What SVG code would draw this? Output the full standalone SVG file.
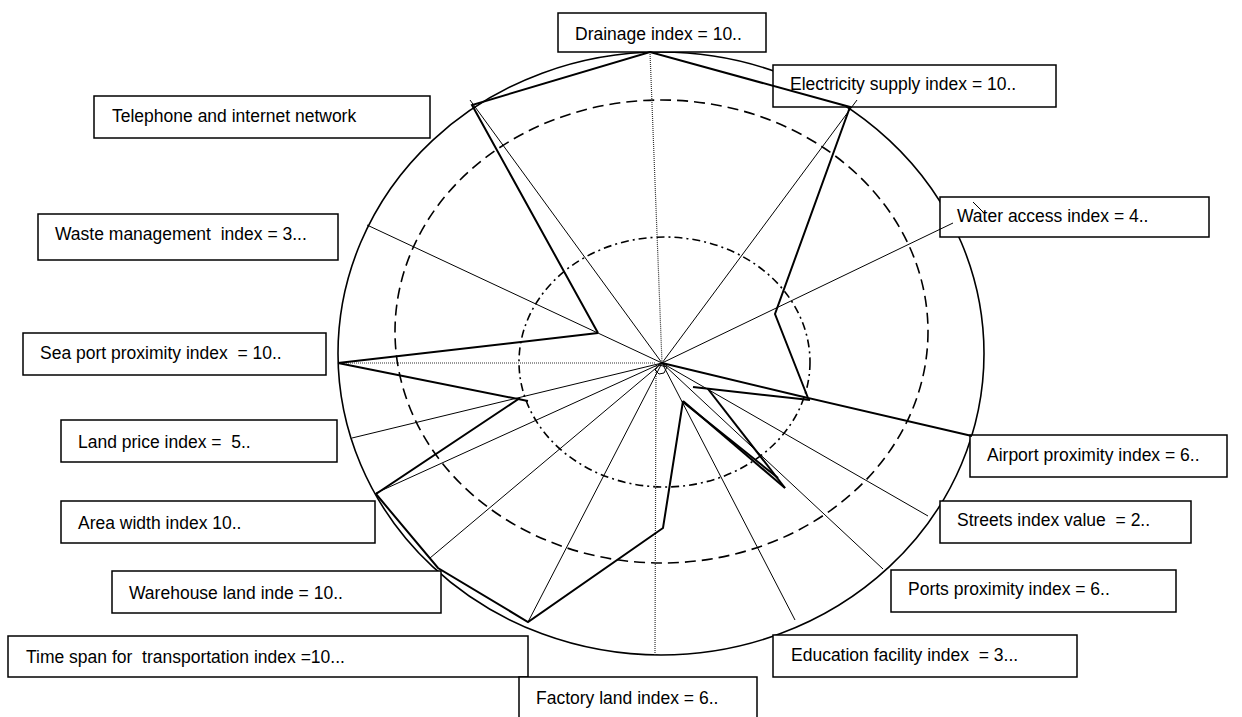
<svg xmlns="http://www.w3.org/2000/svg" width="1242" height="717" viewBox="0 0 1242 717">
<style>
.box{fill:#fff;stroke:#000;stroke-width:1.5}
.lbl{font-family:"Liberation Sans",Arial,sans-serif;font-size:17.5px;fill:#000;white-space:pre}
.spoke{stroke:#000;stroke-width:1;fill:none}
.axis{stroke:#333;stroke-width:1.2;fill:none;stroke-dasharray:1 1}
.poly{stroke:#000;stroke-width:2;fill:none;stroke-linejoin:miter}
.ring{fill:none;stroke:#000;stroke-width:1.6}
</style>
<rect width="1242" height="717" fill="#fff"/>
<g id="grid">
<ellipse class="ring" cx="661" cy="353.5" rx="323" ry="301.5"/>
<ellipse class="ring" cx="661.5" cy="331.5" rx="266.5" ry="231.5" stroke-dasharray="11 6"/>
<ellipse class="ring" cx="664.5" cy="362" rx="145.5" ry="125" stroke-width="1.3" stroke-dasharray="8 4 2 4"/>
</g>
<g id="node-drainage"><rect class="box" x="558" y="13" width="208" height="39"/><text class="lbl" x="575" y="39.5">Drainage index = 10..</text></g>
<g id="node-electricity"><rect class="box" x="773" y="65" width="283" height="42"/><text class="lbl" x="790" y="90">Electricity supply index = 10..</text></g>
<g id="node-telephone"><rect class="box" x="94" y="96" width="336" height="42"/><text class="lbl" x="112" y="122">Telephone and internet network</text></g>
<g id="node-water"><rect class="box" x="940" y="197" width="269" height="40"/><text class="lbl" x="957" y="222">Water access index = 4..</text></g>
<g id="node-waste"><rect class="box" x="38" y="214" width="300" height="46"/><text class="lbl" x="55" y="239.5">Waste management  index = 3...</text></g>
<g id="node-seaport"><rect class="box" x="23" y="333" width="303" height="42"/><text class="lbl" x="40" y="358.5">Sea port proximity index  = 10..</text></g>
<g id="node-landprice"><rect class="box" x="61" y="420" width="276" height="42"/><text class="lbl" x="78" y="447.5">Land price index =  5..</text></g>
<g id="node-areawidth"><rect class="box" x="61" y="501" width="314" height="42"/><text class="lbl" x="78" y="528.5">Area width index 10..</text></g>
<g id="node-warehouse"><rect class="box" x="112" y="571" width="329" height="42"/><text class="lbl" x="129" y="598.5">Warehouse land inde = 10..</text></g>
<g id="node-timespan"><rect class="box" x="8" y="636" width="520" height="41"/><text class="lbl" x="26" y="663">Time span for  transportation index =10...</text></g>
<g id="node-factory"><rect class="box" x="519" y="677" width="238" height="45"/><text class="lbl" x="536" y="703.5">Factory land index = 6..</text></g>
<g id="node-education"><rect class="box" x="773" y="635" width="304" height="42"/><text class="lbl" x="791" y="661">Education facility index  = 3...</text></g>
<g id="node-ports"><rect class="box" x="891" y="570" width="285" height="42"/><text class="lbl" x="908" y="595">Ports proximity index = 6..</text></g>
<g id="node-streets"><rect class="box" x="940" y="501" width="251" height="42"/><text class="lbl" x="957" y="526">Streets index value  = 2..</text></g>
<g id="node-airport"><rect class="box" x="970" y="435" width="257" height="42"/><text class="lbl" x="987" y="460.5">Airport proximity index = 6..</text></g>
<g id="connectors">
<line class="axis" x1="650" y1="52" x2="662" y2="363"/>
<line class="axis" x1="338" y1="363" x2="656" y2="363"/>
<line class="axis" x1="656" y1="366" x2="655" y2="655"/>
<line class="spoke" x1="857" y1="100" x2="662" y2="363"/>
<line class="spoke" x1="953" y1="223" x2="662" y2="363"/>
<line class="spoke" x1="928" y1="516" x2="662" y2="363"/>
<line class="spoke" x1="883" y1="569" x2="662" y2="363"/>
<line class="spoke" x1="795" y1="620" x2="662" y2="363"/>
<line class="spoke" x1="528" y1="622" x2="662" y2="363"/>
<line class="spoke" x1="430" y1="558" x2="662" y2="363"/>
<line class="spoke" x1="376" y1="493" x2="662" y2="363"/>
<line class="spoke" x1="352" y1="438" x2="662" y2="363"/>
<line class="spoke" x1="367" y1="225" x2="662" y2="363"/>
<line class="spoke" x1="470" y1="100" x2="662" y2="363"/>
<line class="spoke" x1="973" y1="202" x2="983" y2="212"/>
<polygon class="spoke" points="659,365 655,370 659,374 664,373 667,367"/>
<polyline class="poly" points="598,333 472,105 650,52 850,107 775,314 808,398 972,436"/>
<line class="poly" x1="662" y1="363" x2="808" y2="398"/>
<line class="poly" x1="810" y1="400" x2="693" y2="387"/>
<line class="poly" x1="708" y1="389" x2="785" y2="488"/>
<line class="poly" x1="683" y1="401" x2="785" y2="488"/>
<line class="poly" x1="683" y1="402" x2="778" y2="478" stroke-width="1.4"/>
<polyline class="poly" points="683,401 663,528 528,622 438,568 376,494 520,398"/>
<line class="poly" x1="338" y1="363" x2="528" y2="401"/>
<line class="poly" x1="338" y1="363" x2="598" y2="333"/>
</g>
</svg>
